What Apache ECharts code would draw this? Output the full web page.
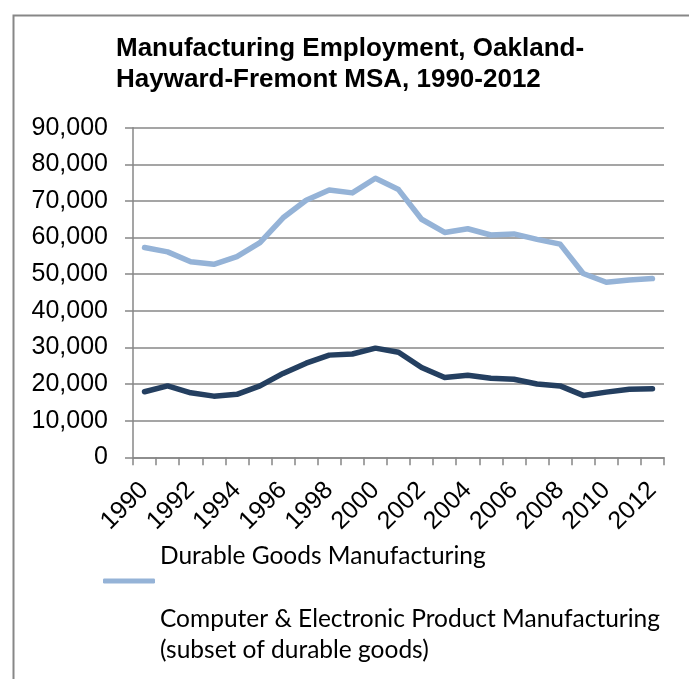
<!DOCTYPE html>
<html>
<head>
<meta charset="utf-8">
<script src="https://cdn.jsdelivr.net/npm/echarts@6/dist/echarts.min.js"></script>
<style>
html,body{margin:0;padding:0;background:#fff;}
#chart{width:689px;height:679px;}
</style>
</head>
<body>
<div id="chart"></div>
<script>
const years = ['1990','1991','1992','1993','1994','1995','1996','1997','1998','1999','2000','2001','2002','2003','2004','2005','2006','2007','2008','2009','2010','2011','2012'];
const durableGoods = [57300,56100,53400,52700,54800,58600,65400,70200,73000,72200,76200,73100,65000,61400,62400,60700,61000,59500,58200,50200,47800,48400,48800];
const computerElectronic = [17900,19500,17600,16700,17200,19500,22900,25700,27900,28200,29800,28700,24500,21800,22400,21600,21300,20000,19500,16900,17800,18600,18700];
const titleText = 'Manufacturing Employment, Oakland-\nHayward-Fremont MSA, 1990-2012';
const seriesNames = ['Durable Goods Manufacturing', 'Computer & Electronic Product Manufacturing'];
const legendSubtitle = '(subset of durable goods)';

const chart = echarts.init(document.getElementById('chart'), null, {renderer: 'canvas'});
const gray = '#878787';
const light = '#95B3D7';
const dark = '#243F60';
const legendFont = 'Lato';

chart.setOption({
  animation: false,
  backgroundColor: '#ffffff',
  title: {
    text: titleText,
    left: 116,
    top: 33,
    padding: 0,
    textStyle: {fontFamily: 'Liberation Sans', fontWeight: 'bold', fontSize: 26, lineHeight: 31, color: '#000'}
  },
  graphic: [{
    type: 'rect', left: 11, top: 13, shape: {width: 720, height: 720},
    style: {fill: 'none', stroke: gray, lineWidth: 2}, silent: true
  }],
  legend: [{
    data: [{name: seriesNames[0], icon: 'roundRect'}],
    left: 103, top: 531, padding: 0,
    itemWidth: 52, itemHeight: 5,
    formatter: n => n + '\n ',
    textStyle: {fontFamily: legendFont, fontSize: 24.5, color: '#000', lineHeight: 50}
  }, {
    data: [{name: seriesNames[1], icon: 'roundRect'}],
    left: 103, top: 604, padding: 0,
    itemWidth: 52, itemHeight: 5,
    formatter: n => n + '\n' + legendSubtitle + '\n \n \n \n ',
    textStyle: {fontFamily: legendFont, fontSize: 24.5, color: '#000', lineHeight: 31}
  }],
  grid: {left: 133, right: 25, top: 127.7, bottom: 221.7, containLabel: false},
  xAxis: {
    type: 'category',
    data: years,
    boundaryGap: true,
    axisLine: {lineStyle: {color: gray, width: 1.5}},
    axisTick: {show: true, interval: 0, length: 8, lineStyle: {color: gray, width: 1.5}},
    axisLabel: {interval: 1, rotate: 45, margin: 29, fontFamily: 'Liberation Sans', fontSize: 25, color: '#000'},
    splitLine: {show: false}
  },
  yAxis: {
    type: 'value',
    min: 0, max: 90000, interval: 10000,
    axisLine: {show: true, lineStyle: {color: gray, width: 1.5}},
    axisTick: {show: true, length: 8, lineStyle: {color: gray, width: 1.5}},
    axisLabel: {margin: 25, fontFamily: 'Liberation Sans', fontSize: 25, color: '#000',
      formatter: v => v.toLocaleString('en-US')},
    splitLine: {show: true, lineStyle: {color: gray, width: 1.5}}
  },
  series: [{
    name: seriesNames[0], type: 'line', data: durableGoods,
    symbol: 'none', lineStyle: {color: light, width: 5.5, cap: 'round', join: 'round'}, itemStyle: {color: light}
  }, {
    name: seriesNames[1], type: 'line', data: computerElectronic,
    symbol: 'none', lineStyle: {color: dark, width: 5.5, cap: 'round', join: 'round'}, itemStyle: {color: dark}
  }]
});
</script>
</body>
</html>
